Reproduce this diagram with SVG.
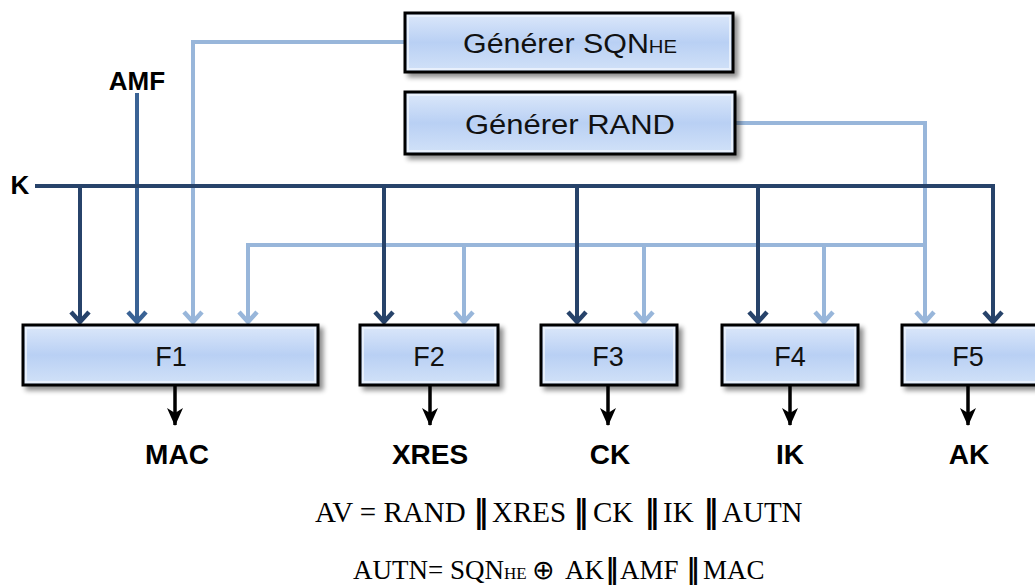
<svg xmlns="http://www.w3.org/2000/svg" width="1035" height="586" viewBox="0 0 1035 586">
  <defs>
    <linearGradient id="boxfill" x1="0" y1="0" x2="0" y2="1">
      <stop offset="0" stop-color="#dce8fa"/>
      <stop offset="0.5" stop-color="#b9d0f4"/>
      <stop offset="1" stop-color="#d2e2f8"/>
    </linearGradient>
    <filter id="shadow" x="-10%" y="-20%" width="130%" height="160%">
      <feGaussianBlur in="SourceAlpha" stdDeviation="2.5"/>
      <feOffset dx="4" dy="4" result="b"/>
      <feComponentTransfer><feFuncA type="linear" slope="0.45"/></feComponentTransfer>
      <feMerge><feMergeNode/><feMergeNode in="SourceGraphic"/></feMerge>
    </filter>
    <marker id="ahDark" markerUnits="userSpaceOnUse" markerWidth="16" markerHeight="22" refX="10" refY="11" orient="auto" viewBox="0 0 16 22">
      <path d="M2,2 L12,11 L2,20" fill="none" stroke="#27436a" stroke-width="4.5"/>
    </marker>
    <marker id="ahMid" markerUnits="userSpaceOnUse" markerWidth="16" markerHeight="22" refX="10" refY="11" orient="auto" viewBox="0 0 16 22">
      <path d="M2,2 L12,11 L2,20" fill="none" stroke="#3a6395" stroke-width="4.5"/>
    </marker>
    <marker id="ahLight" markerUnits="userSpaceOnUse" markerWidth="16" markerHeight="22" refX="10" refY="11" orient="auto" viewBox="0 0 16 22">
      <path d="M2,2 L12,11 L2,20" fill="none" stroke="#98b6da" stroke-width="4.5"/>
    </marker>
    <marker id="ahBlack" markerUnits="userSpaceOnUse" markerWidth="20" markerHeight="18" refX="18" refY="9" orient="auto" viewBox="0 0 20 18">
      <path d="M1,1 L19,9 L1,17 L6,9 Z" fill="#000"/>
    </marker>
  </defs>
  <style>
    .box { fill: url(#boxfill); stroke: #000; stroke-width: 3; }
    .bevel { fill: none; stroke: #eef4fd; stroke-width: 2; opacity: 0.8; }
    .btxt { font-family: "Liberation Sans", Arial, sans-serif; font-size: 27px; fill: #111; text-anchor: middle; }
    .lbl { font-family: "Liberation Sans", Arial, sans-serif; font-weight: bold; font-size: 28px; fill: #000; text-anchor: middle; }
    .lblS { font-family: "Liberation Sans", Arial, sans-serif; font-weight: bold; font-size: 26px; fill: #000; text-anchor: middle; }
    .dark { stroke: #27436a; stroke-width: 4; fill: none; }
    .mid { stroke: #3a6395; stroke-width: 4; fill: none; }
    .light { stroke: #98b6da; stroke-width: 4; fill: none; }
    .out { stroke: #000; stroke-width: 3.5; fill: none; }
    .frm { font-family: "Liberation Serif", "Times New Roman", serif; font-size: 29px; fill: #000; }
    .frm2 { font-family: "Liberation Serif", "Times New Roman", serif; font-size: 27px; fill: #000; }
    .bar { font-family: "DejaVu Serif", "Liberation Serif", serif; font-size: 31px; font-weight: bold; fill: #000; text-anchor: middle; }
    .bar2 { font-family: "DejaVu Serif", "Liberation Serif", serif; font-size: 27px; font-weight: bold; fill: #000; text-anchor: middle; }
  </style>

  <g id="connectors">
    <path class="light" d="M405,42 H193 V320" marker-end="url(#ahLight)"/>
    <path class="light" d="M735,123 H925 V320" marker-end="url(#ahLight)"/>
    <path class="light" d="M925,245 H248 V320" marker-end="url(#ahLight)"/>
    <path class="light" d="M464,245 V320" marker-end="url(#ahLight)"/>
    <path class="light" d="M644,245 V320" marker-end="url(#ahLight)"/>
    <path class="light" d="M824,245 V320" marker-end="url(#ahLight)"/>
    <path class="mid" d="M137,93 V320" marker-end="url(#ahMid)"/>
    <path class="dark" d="M35,186 H993 V320" marker-end="url(#ahDark)"/>
    <path class="dark" d="M80,186 V320" marker-end="url(#ahDark)"/>
    <path class="dark" d="M384,186 V320" marker-end="url(#ahDark)"/>
    <path class="dark" d="M577,186 V320" marker-end="url(#ahDark)"/>
    <path class="dark" d="M758,186 V320" marker-end="url(#ahDark)"/>
    <path class="out" d="M175,386 V425" marker-end="url(#ahBlack)"/>
    <path class="out" d="M430,386 V425" marker-end="url(#ahBlack)"/>
    <path class="out" d="M608,386 V425" marker-end="url(#ahBlack)"/>
    <path class="out" d="M790,386 V425" marker-end="url(#ahBlack)"/>
    <path class="out" d="M968,386 V425" marker-end="url(#ahBlack)"/>
  </g>

  <g id="gen-sqn">
    <rect class="box" x="405" y="13" width="328" height="59" filter="url(#shadow)"/>
    <rect class="bevel" x="408" y="16" width="322" height="53"/>
    <text class="btxt" x="570" y="53" textLength="214" lengthAdjust="spacingAndGlyphs">Générer SQN<tspan font-size="18">HE</tspan></text>
  </g>
  <g id="gen-rand">
    <rect class="box" x="405" y="92" width="330" height="62" filter="url(#shadow)"/>
    <rect class="bevel" x="408" y="95" width="324" height="56"/>
    <text class="btxt" x="570" y="134" textLength="210" lengthAdjust="spacingAndGlyphs">Générer RAND</text>
  </g>

  <g id="f1">
    <rect class="box" x="23" y="325" width="295" height="60" filter="url(#shadow)"/>
    <rect class="bevel" x="26" y="328" width="289" height="54"/>
    <text class="btxt" x="171" y="366">F1</text>
  </g>
  <g id="f2">
    <rect class="box" x="360" y="325" width="138" height="60" filter="url(#shadow)"/>
    <rect class="bevel" x="363" y="328" width="132" height="54"/>
    <text class="btxt" x="429" y="366">F2</text>
  </g>
  <g id="f3">
    <rect class="box" x="541" y="325" width="136" height="60" filter="url(#shadow)"/>
    <rect class="bevel" x="544" y="328" width="130" height="54"/>
    <text class="btxt" x="608" y="366">F3</text>
  </g>
  <g id="f4">
    <rect class="box" x="722" y="325" width="136" height="60" filter="url(#shadow)"/>
    <rect class="bevel" x="725" y="328" width="130" height="54"/>
    <text class="btxt" x="790" y="366">F4</text>
  </g>
  <g id="f5">
    <rect class="box" x="902" y="325" width="145" height="60" filter="url(#shadow)"/>
    <rect class="bevel" x="905" y="328" width="139" height="54"/>
    <text class="btxt" x="968" y="366">F5</text>
  </g>

  <g id="inputs">
    <text class="lblS" x="20" y="194">K</text>
    <text class="lblS" x="137" y="90">AMF</text>
  </g>

  <g id="outputs">
    <text class="lbl" x="177" y="464">MAC</text>
    <text class="lbl" x="430" y="464">XRES</text>
    <text class="lbl" x="610" y="464">CK</text>
    <text class="lbl" x="790" y="464">IK</text>
    <text class="lbl" x="969" y="464">AK</text>
  </g>

  <g id="formulas">
    <text class="frm" x="315" y="522">AV = RAND</text>
    <text class="bar" x="481" y="522">‖</text>
    <text class="frm" x="492" y="522">XRES</text>
    <text class="bar" x="581" y="522">‖</text>
    <text class="frm" x="593" y="522">CK</text>
    <text class="bar" x="652" y="522">‖</text>
    <text class="frm" x="663" y="522">IK</text>
    <text class="bar" x="711" y="522">‖</text>
    <text class="frm" x="722" y="522">AUTN</text>

    <text class="frm2" x="353" y="579">AUTN= SQN<tspan font-size="17">HE</tspan></text>
    <text class="frm2" x="543" y="579" text-anchor="middle">⊕</text>
    <text class="frm2" x="565" y="579">AK</text>
    <text class="bar2" x="612" y="578">‖</text>
    <text class="frm2" x="620" y="579">AMF</text>
    <text class="bar2" x="693" y="578">‖</text>
    <text class="frm2" x="703" y="579">MAC</text>
  </g>
</svg>
